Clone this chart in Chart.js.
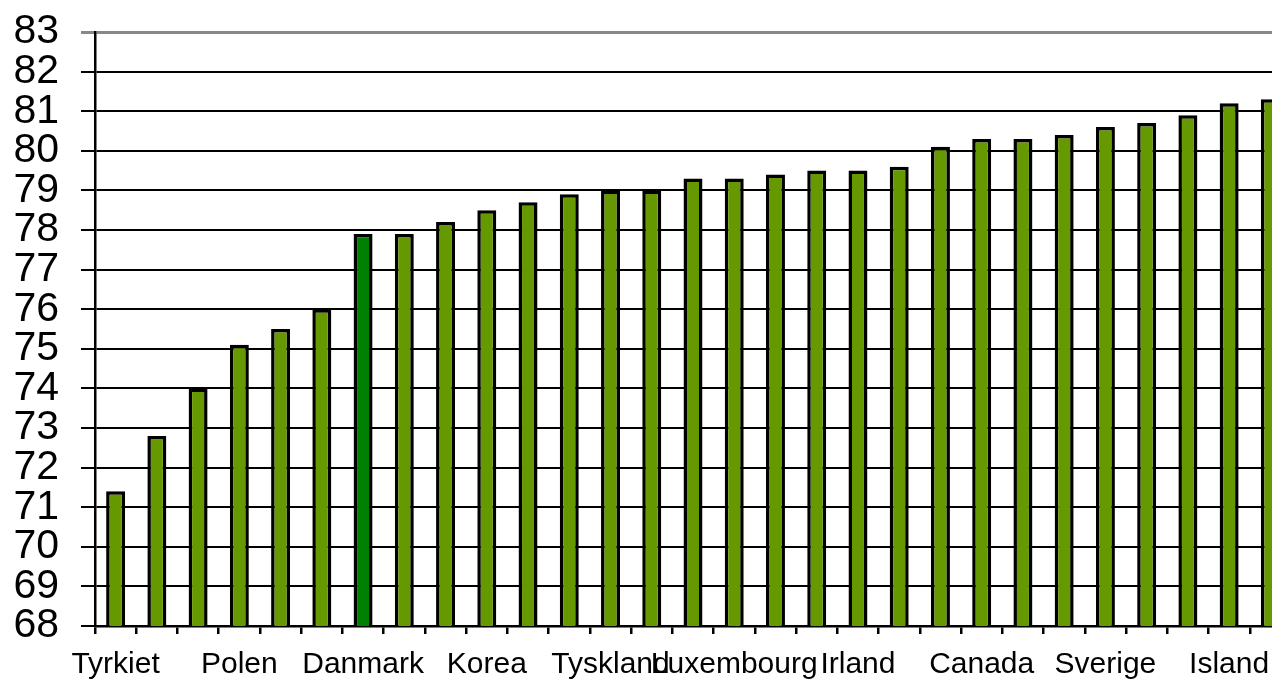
<!DOCTYPE html>
<html>
<head>
	<title>Levetid</title>
	<meta charset="utf-8">
	<script src="https://cdn.jsdelivr.net/npm/chart.js@4.4.1/dist/chart.umd.min.js"></script>
	<style>
		html, body { margin: 0; padding: 0; background: #fff; overflow: hidden; }
		#wrap { width: 1300px; height: 682px; }
	</style>
</head>
<body>
	<div id="wrap">
		<canvas id="levetid"></canvas>
	</div>
	<script>
		// only every third country carries a name on the axis
		var countries = [
			'Tyrkiet', '', '', 'Polen', '', '', 'Danmark', '', '', 'Korea',
			'', '', 'Tyskland', '', '', 'Luxembourg', '', '', 'Irland', '',
			'', 'Canada', '', '', 'Sverige', '', '', 'Island', ''
		];
		var lifeExpectancy = [
			71.4, 72.8, 74.0, 75.1, 75.5, 76.0, 77.9, 77.9, 78.2, 78.5,
			78.7, 78.9, 79.0, 79.0, 79.3, 79.3, 79.4, 79.5, 79.5, 79.6,
			80.1, 80.3, 80.3, 80.4, 80.6, 80.7, 80.9, 81.2, 81.3
		];
		var highlight = 'Danmark';
		var yMin = 68, yMax = 83;

		var fills = countries.map(function (c) {
			return c === highlight ? '#008000' : '#669900';
		});

		var font = '"Liberation Sans", Arial, sans-serif';

		var ctx = document.getElementById('levetid').getContext('2d');
		var chart = new Chart(ctx, {
			type: 'bar',
			data: {
				labels: countries,
				datasets: [{
					data: lifeExpectancy,
					backgroundColor: fills,
					borderColor: '#000',
					borderWidth: 3.5,
					borderSkipped: false,
					barPercentage: 0.46,
					categoryPercentage: 1
				}]
			},
			options: {
				responsive: true,
				maintainAspectRatio: false,
				animation: false,
				layout: { padding: { top: 32, right: 9, left: 0, bottom: 0 } },
				plugins: {
					legend: { display: false },
					tooltip: { enabled: false }
				},
				scales: {
					x: {
						offset: true,
						grid: {
							offset: true,
							drawOnChartArea: false,
							drawTicks: true,
							tickLength: 8,
							color: '#000',
							lineWidth: 2.5
						},
						border: { color: '#000', width: 2.5 },
						ticks: {
							autoSkip: false,
							maxRotation: 0,
							padding: 13,
							color: '#000',
							font: { family: font, size: 30 }
						},
						afterFit: function (axis) { axis.height = 56; }
					},
					y: {
						min: yMin,
						max: yMax,
						grid: {
							color: function (c) { return c.tick && c.tick.value === yMax ? '#888' : '#000'; },
							lineWidth: function (c) { return c.tick && c.tick.value === yMax ? 3 : 2; },
							tickLength: 14
						},
						border: { color: '#000', width: 2.5 },
						ticks: {
							stepSize: 1,
							autoSkip: false,
							padding: 22,
							color: '#000',
							font: { family: font, size: 41 }
						},
						afterFit: function (axis) {
							// keep the top label from pushing the plot down
							axis.width = 95;
							axis.paddingTop = 0;
							axis.paddingBottom = 0;
						}
					}
				}
			}
		});
	</script>
</body>
</html>
